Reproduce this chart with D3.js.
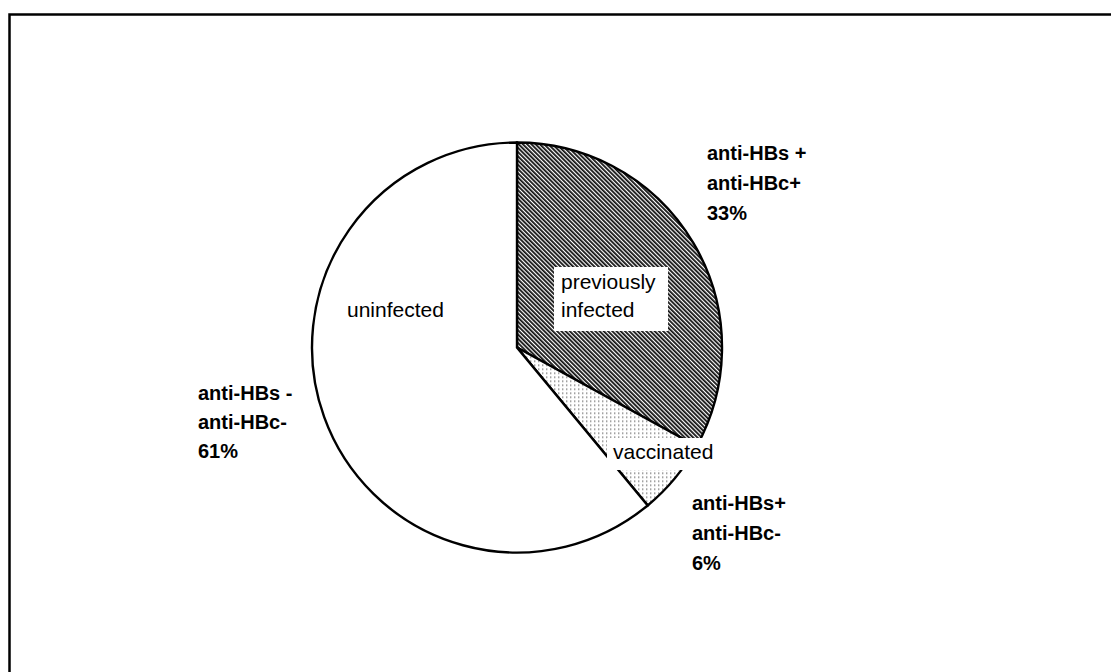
<!DOCTYPE html>
<html>
<head>
<meta charset="utf-8">
<script src="https://cdn.jsdelivr.net/npm/d3@7/dist/d3.min.js"></script>
<style>
  html, body { margin: 0; padding: 0; background: #fff; }
  svg { display: block; }
  text { font-family: "Liberation Sans", Arial, Helvetica, sans-serif; fill: #000; }
</style>
</head>
<body>
<svg id="chart" width="1111" height="672"></svg>
<script>
// Serological status of the study group (share of subjects, %)
const categories = ["previously infected", "vaccinated", "uninfected"];
const percents = [33, 6, 61];
const markerLines = [
  ["anti-HBs +", "anti-HBc+"],
  ["anti-HBs+", "anti-HBc-"],
  ["anti-HBs -", "anti-HBc-"]
];
const statusLines = [["previously", "infected"], ["vaccinated"], ["uninfected"]];

// Layout
const W = 1111, H = 672;
const cx = 517, cy = 347.5, R = 205;
// outside marker labels: [x, first baseline, line step]
const markerPos = [[707, 160, 30], [692, 510, 30], [198, 400, 29]];
// inside status labels: [x, first baseline, line step, box or null]
const statusPos = [
  [561, 289, 28, [554, 267, 114, 64]],
  [613, 459, 28, [607, 438, 115, 32]],
  [347, 317, 28, null]
];

const svg = d3.select("#chart");
const defs = svg.append("defs");

// dense diagonal hatch
const hatch = defs.append("pattern")
  .attr("id", "hatch")
  .attr("patternUnits", "userSpaceOnUse")
  .attr("width", 3).attr("height", 3)
  .attr("patternTransform", "rotate(-45)");
hatch.append("rect").attr("width", 3).attr("height", 3).attr("fill", "#fff");
hatch.append("rect").attr("width", 1.8).attr("height", 3).attr("fill", "#111");

// fine grey dot screen
const dots = defs.append("pattern")
  .attr("id", "dots")
  .attr("patternUnits", "userSpaceOnUse")
  .attr("width", 4).attr("height", 4);
dots.append("rect").attr("width", 4).attr("height", 4).attr("fill", "#fff");
dots.append("rect").attr("x", 1).attr("y", 1).attr("width", 1.4).attr("height", 1.4).attr("fill", "#7a7a7a");

const fills = ["url(#hatch)", "url(#dots)", "#fff"];

// outer frame
svg.append("rect")
  .attr("x", 9.5).attr("y", 14.5)
  .attr("width", 1110).attr("height", 700)
  .attr("fill", "none").attr("stroke", "#000").attr("stroke-width", 2.5);

const pie = d3.pie().sort(null).startAngle(0).endAngle(2 * Math.PI);
const arcs = pie(percents);
const arc = d3.arc().innerRadius(0).outerRadius(R);

const g = svg.append("g").attr("transform", `translate(${cx},${cy})`);
g.selectAll("path.slice")
  .data(arcs)
  .join("path")
  .attr("class", "slice")
  .attr("d", arc)
  .attr("fill", (d, i) => fills[i])
  .attr("stroke", "#000")
  .attr("stroke-width", 2.4)
  .attr("stroke-linejoin", "miter");

// status labels inside the slices
categories.forEach((c, i) => {
  const [x, y0, step, box] = statusPos[i];
  if (box) {
    svg.append("rect")
      .attr("x", box[0]).attr("y", box[1])
      .attr("width", box[2]).attr("height", box[3])
      .attr("fill", "#fff");
  }
  statusLines[i].forEach((t, j) => {
    svg.append("text")
      .attr("x", x).attr("y", y0 + j * step)
      .attr("font-size", 21)
      .text(t);
  });
});

// marker / percentage labels outside
markerLines.forEach((lines, i) => {
  const [x, y0, step] = markerPos[i];
  const all = lines.concat([percents[i] + "%"]);
  all.forEach((t, j) => {
    svg.append("text")
      .attr("x", x).attr("y", y0 + j * step)
      .attr("font-size", 20)
      .attr("font-weight", "bold")
      .text(t);
  });
});
</script>
</body>
</html>
